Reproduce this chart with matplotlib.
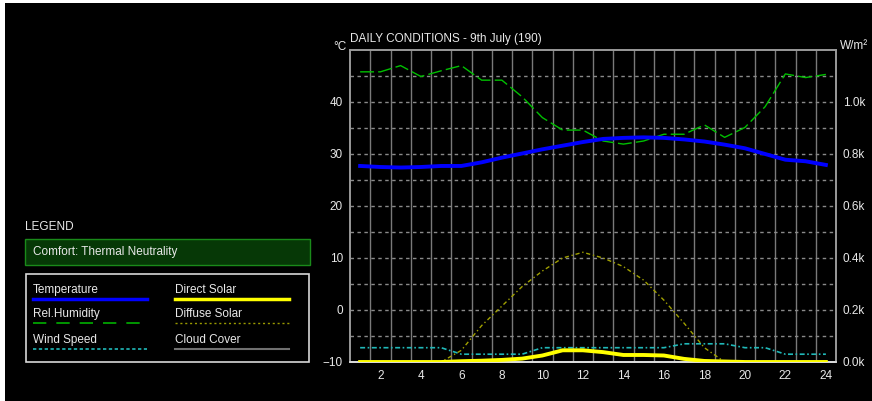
import matplotlib.pyplot as plt
from matplotlib.patches import Rectangle
from matplotlib.lines import Line2D

plt.rcParams['font.family'] = ['Liberation Sans Narrow', 'Liberation Sans', 'DejaVu Sans']

# hourly values (left axis units for temp / humidity / wind)
hours = list(range(1, 25))
temperature = [27.7, 27.5, 27.4, 27.5, 27.7, 27.7, 28.4, 29.3, 30.1, 30.9, 31.6, 32.3,
               32.9, 33.1, 33.2, 33.1, 32.8, 32.4, 31.8, 31.1, 30.0, 28.9, 28.6, 27.9]
rel_humidity = [45.8, 45.8, 47.0, 44.9, 46.0, 47.0, 44.2, 44.2, 41.0, 37.0, 34.6, 34.6,
                32.5, 31.9, 32.5, 33.8, 33.8, 35.6, 33.2, 35.1, 39.1, 45.4, 44.7, 45.3]
wind_speed = [-7.25, -7.25, -7.25, -7.25, -7.25, -8.5, -8.5, -8.5, -8.5, -7.25, -7.25, -7.25,
              -7.25, -7.25, -7.25, -7.25, -6.5, -6.5, -6.5, -7.25, -7.25, -8.5, -8.5, -8.5]
# W/m2 on the right axis
direct_solar = [0, 0, 0, 0, 0, 3, 5, 8, 13, 25, 45, 45,
                38, 27, 27, 25, 12, 4, 2, 0, 0, 0, 0, 0]
diffuse_solar = [0, 0, 0, 0, 0, 45, 140, 215, 290, 350, 400, 422,
                 400, 367, 315, 238, 149, 55, 0, 0, 0, 0, 0, 0]

left_ticks = [-10, 0, 10, 20, 30, 40]
right_ticks = [0, 200, 400, 600, 800, 1000]
right_labels = ['0.0k', '0.2k', '0.4k', '0.6k', '0.8k', '1.0k']
x_ticks = list(range(2, 25, 2))

W, H = 872, 401
fig = plt.figure(figsize=(W / 100, H / 100), dpi=100, facecolor='white')

# black panel and legend drawn in pixel coords
bg = fig.add_axes([0, 0, 1, 1])
bg.set_xlim(0, W)
bg.set_ylim(H, 0)
bg.axis('off')
bg.add_patch(Rectangle((5, 3), W - 5, H - 3, facecolor='black', edgecolor='none'))

txt = '#e8e8e8'
bg.text(25, 227, 'LEGEND', color=txt, fontsize=8.5, va='center', ha='left')
bg.add_patch(Rectangle((25, 239), 285, 26, facecolor='#063806', edgecolor='#1a8a1a', lw=1))
bg.text(33, 252, 'Comfort: Thermal Neutrality', color=txt, fontsize=8.5, va='center')
bg.add_patch(Rectangle((26, 274), 283, 88, facecolor='black', edgecolor='#d8d8d8', lw=1.2))

entries = [
    ('Temperature', 33, 290, dict(color='#0000ff', lw=2.5)),
    ('Direct Solar', 175, 290, dict(color='#ffff00', lw=2.5)),
    ('Rel.Humidity', 33, 314, dict(color='#00b000', lw=1.2, dashes=(8, 6))),
    ('Diffuse Solar', 175, 314, dict(color='#9a9a00', lw=1, dashes=(1.5, 2))),
    ('Wind Speed', 33, 340, dict(color='#20b8b8', lw=1.2, dashes=(2, 1.5))),
    ('Cloud Cover', 175, 340, dict(color='#707070', lw=1.5)),
]
for label, x0, y0, style in entries:
    bg.text(x0, y0, label, color=txt, fontsize=8.5, va='center', ha='left')
    bg.add_line(Line2D([x0, x0 + 114], [y0 + 9, y0 + 9], **style))

# main chart
ax = fig.add_axes([350 / W, 1 - 362 / H, 486 / W, 312 / H])
ax.set_facecolor('black')
ax.set_xlim(0.5, 24.5)
ax.set_ylim(-10, 50)

for h in range(1, 24):
    ax.axvline(h + 0.5, color='#7a7a7a', lw=1, zorder=1)
for v in range(-5, 50, 5):
    ax.axhline(v, color='#8a8a8a', lw=1, dashes=(2.5, 2.5), zorder=1)

ax.plot(hours, wind_speed, color='#20b8b8', lw=1.2, dashes=(3, 1.5, 1, 1.5), zorder=3)
ax.plot(hours, rel_humidity, color='#00c000', lw=1, dashes=(10, 3), zorder=3)
ax.plot(hours, temperature, color='#0000ff', lw=2.8, zorder=4)

ax2 = ax.twinx()
ax2.set_ylim(0, 1200)
ax2.plot(hours, diffuse_solar, color='#a0a000', lw=1, dashes=(3, 2, 1, 2), zorder=3)
ax2.plot(hours, direct_solar, color='#ffff00', lw=2.8, zorder=4)

for a in (ax, ax2):
    for s in a.spines.values():
        s.set_color('#9a9a9a')
        s.set_linewidth(1.2)
    a.spines['bottom'].set_color('#e0e0e0')
    a.tick_params(length=0, colors=txt, labelsize=8.5)

ax.set_xticks(x_ticks)
ax.set_yticks(left_ticks)
ax.tick_params(axis='x', pad=6)
ax.tick_params(axis='y', pad=5)
ax2.set_yticks(right_ticks)
ax2.set_yticklabels(right_labels)
ax2.tick_params(axis='y', pad=5)

bg.text(350, 39, 'DAILY CONDITIONS - 9th July (190)', color=txt, fontsize=8.5, va='center')
bg.text(346, 47, '°C', color=txt, fontsize=8.5, va='center', ha='right')
bg.text(840, 46, 'W/m²', color=txt, fontsize=8.5, va='center')

fig.savefig('out.png', dpi=100, facecolor='white')
